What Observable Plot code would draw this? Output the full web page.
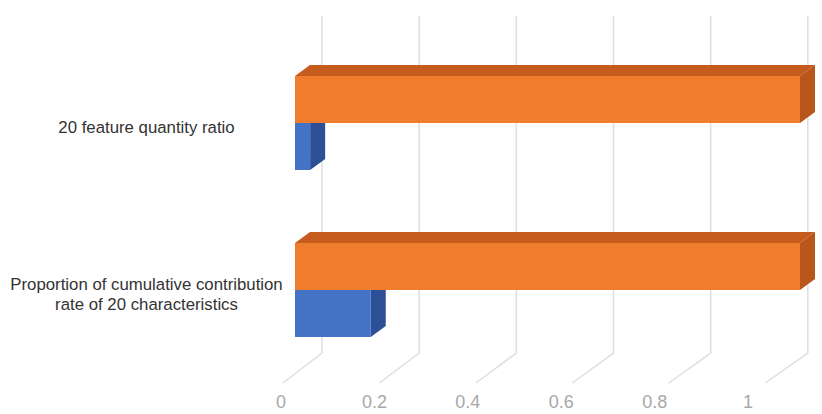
<!DOCTYPE html>
<html>
<head>
<meta charset="utf-8">
<script src="https://cdn.jsdelivr.net/npm/d3@7"></script>
<script src="https://cdn.jsdelivr.net/npm/@observablehq/plot@0.6"></script>
<style>
  html, body { margin: 0; padding: 0; background: #fff; }
  #chart svg { display: block; }
</style>
</head>
<body>
<div id="chart"></div>
<script>
// ---- data ----
const categories = ["20 feature quantity ratio", "Proportion of cumulative contribution rate of 20 characteristics"];
const categoryLabels = ["20 feature quantity ratio", "Proportion of cumulative contribution\nrate of 20 characteristics"];
const seriesNames = ["Total", "20 features"];
const orangeValues = [1, 1];
const blueValues = [0.03, 0.15];
const xTicks = [0, 0.2, 0.4, 0.6, 0.8, 1];
const xTickLabels = ["0", "0.2", "0.4", "0.6", "0.8", "1"];

// ---- tables built from the arrays ----
const orangeRows = categories.map((c, i) => ({category: c, series: seriesNames[0], value: orangeValues[i]}));
const blueRows = categories.map((c, i) => ({category: c, series: seriesNames[1], value: blueValues[i]}));
const labelRows = categories.map((c, i) => ({category: c, label: categoryLabels[i]}));

// ---- style constants ----
const ORANGE = "#EF7D2D", ORANGE_TOP = "#C65B1E", ORANGE_SIDE = "#B9561B";
const BLUE = "#4472C4", BLUE_TOP = "#3A63AE", BLUE_SIDE = "#2C4F96";
const DX = 15, DY = -11;          // bar depth offset
const GRID = "#dedede";

function bw(y) { return typeof y.bandwidth === "function" ? y.bandwidth() : y.bandwidth; }

// 3D faces (top + side) of bars, positioned with the plot's scales
function barFaces(rows, half, topColor, sideColor) {
  return (index, scales, values, dims) => {
    const x = scales.x, y = scales.y, b = bw(y);
    const g = d3.create("svg:g");
    for (const r of rows) {
      const x0 = x(0), x1 = x(r.value);
      const y0 = y(r.category) + (half === "upper" ? 0 : b / 2);
      const y1 = y0 + b / 2;
      g.append("path")
        .attr("d", `M${x0},${y0}L${x0 + DX},${y0 + DY}L${x1 + DX},${y0 + DY}L${x1},${y0}Z`)
        .attr("fill", topColor);
      g.append("path")
        .attr("d", `M${x1},${y0}L${x1 + DX},${y0 + DY}L${x1 + DX},${y1 + DY}L${x1},${y1}Z`)
        .attr("fill", sideColor);
    }
    return g.node();
  };
}

// perspective gridlines (back wall + floor) and the value-axis labels
function gridAndAxis(index, scales, values, dims) {
  const x = scales.x;
  const x0 = x(0);
  const back = t => 322 + (x(t) - x0) * 0.962;
  const floorFront = t => 283 + (x(t) - x0) * 0.955;
  const labelX = t => 281 + (x(t) - x0) * 0.925;
  const g = d3.create("svg:g");
  xTicks.forEach((t, i) => {
    g.append("path")
      .attr("d", `M${back(t)},16L${back(t)},353L${floorFront(t)},383`)
      .attr("fill", "none")
      .attr("stroke", GRID)
      .attr("stroke-width", 1.5);
    g.append("text")
      .attr("x", labelX(t))
      .attr("y", 408)
      .attr("text-anchor", "middle")
      .attr("fill", "#a8a8a8")
      .attr("font-size", 18)
      .attr("font-family", "'Liberation Sans', Arial, sans-serif")
      .text(xTickLabels[i]);
  });
  return g.node();
}

const chart = Plot.plot({
  width: 822,
  height: 414,
  marginLeft: 295,
  marginRight: 22,
  marginTop: 75,
  marginBottom: 77,
  x: {domain: [0, 1], axis: null},
  y: {domain: categories, paddingInner: 0.44, paddingOuter: 0, axis: null},
  style: {fontFamily: "'Liberation Sans', Arial, sans-serif", background: "#fff"},
  marks: [
    gridAndAxis,
    barFaces(blueRows, "lower", BLUE_TOP, BLUE_SIDE),
    Plot.barX(blueRows, {x: "value", y: "category", fill: BLUE, insetTop: 47, insetBottom: 0}),
    barFaces(orangeRows, "upper", ORANGE_TOP, ORANGE_SIDE),
    Plot.barX(orangeRows, {x: "value", y: "category", fill: ORANGE, insetTop: 0, insetBottom: 47}),
    Plot.text(labelRows, {
      y: "category",
      text: "label",
      frameAnchor: "left",
      dx: -149,
      dy: 3,
      textAnchor: "middle",
      lineHeight: 1.2,
      fontSize: 16.8,
      fill: "#333333"
    })
  ]
});

document.getElementById("chart").append(chart);
</script>
</body>
</html>
